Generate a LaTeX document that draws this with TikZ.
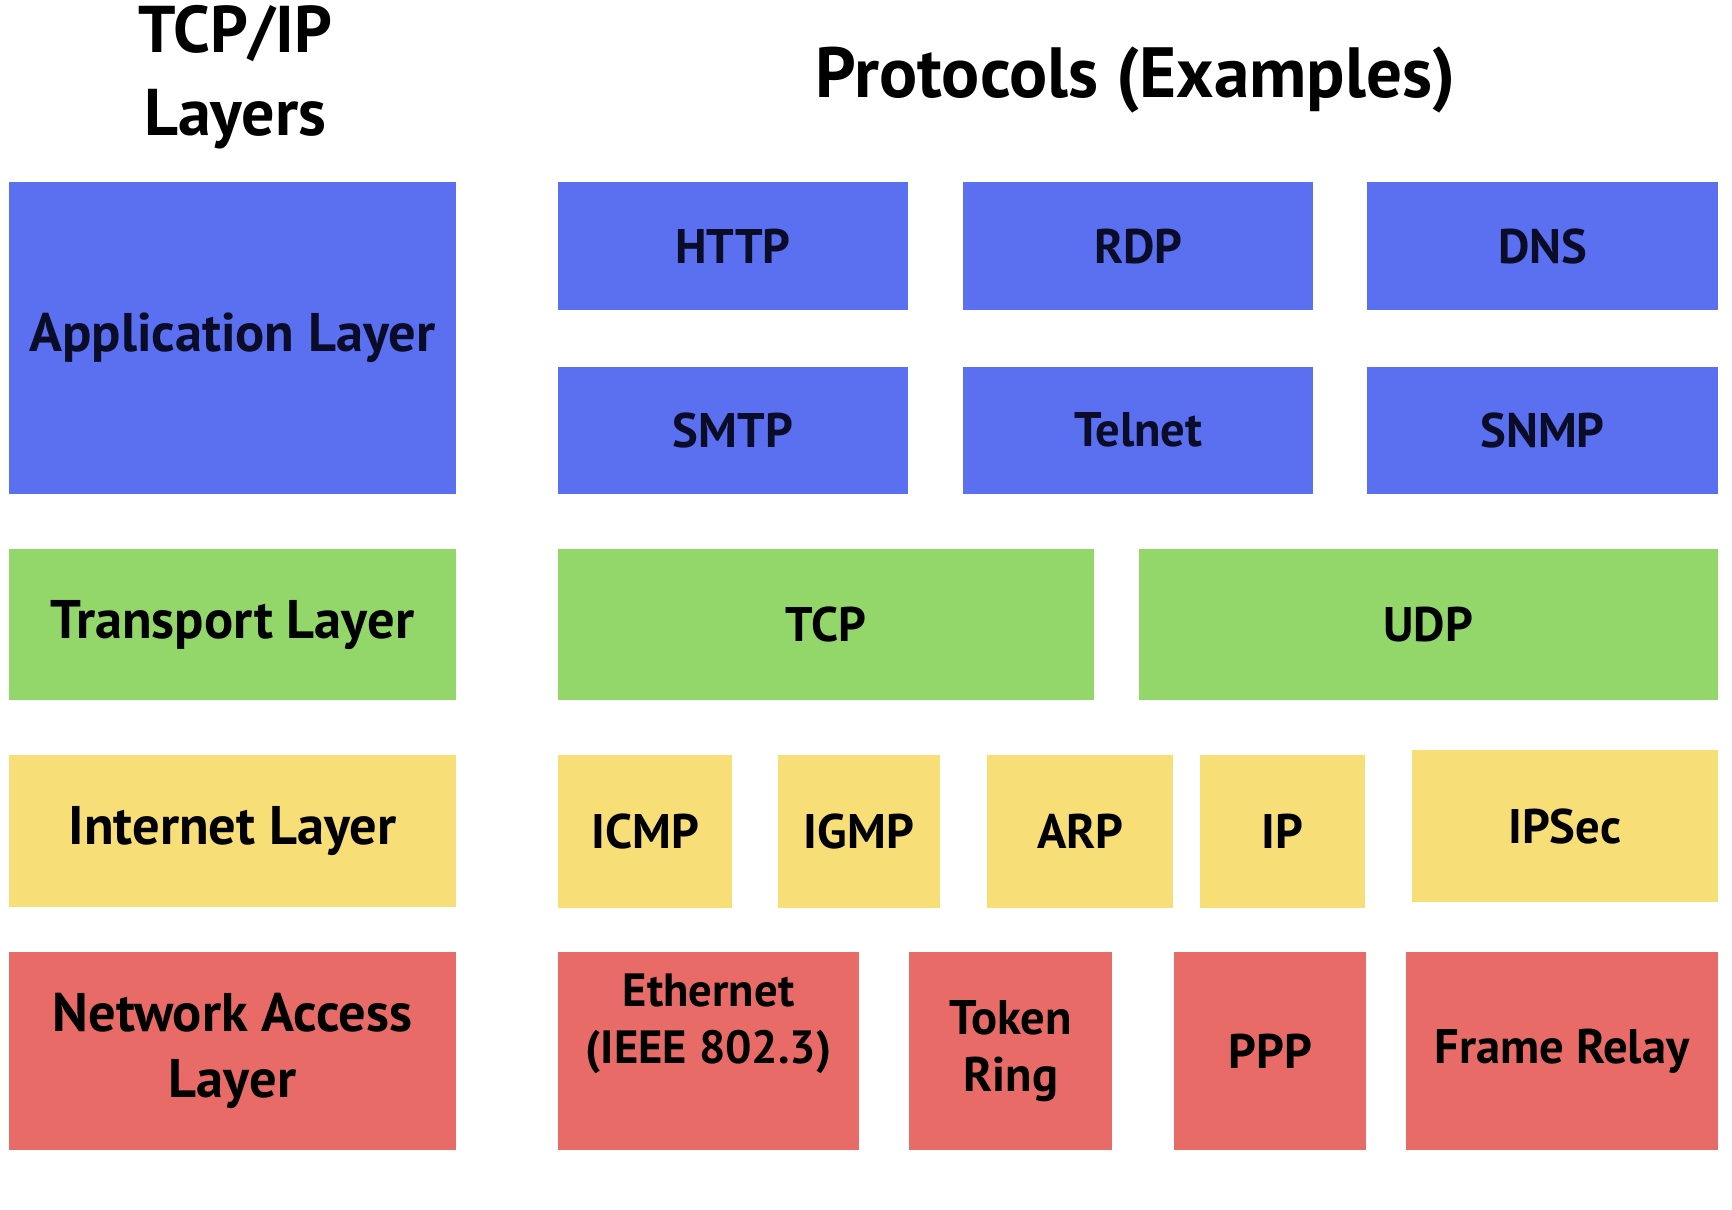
\documentclass[tikz,border=0pt]{standalone}
\usepackage{fontspec}
\setmainfont{PT Sans}
\definecolor{cblue}{RGB}{90,112,240}
\definecolor{cgreen}{RGB}{147,214,106}
\definecolor{cyellow}{RGB}{248,222,118}
\definecolor{cred}{RGB}{233,107,104}
\definecolor{navy}{RGB}{10,12,40}
\begin{document}
\begin{tikzpicture}[x=0.01cm,y=-0.01cm,
  box/.style={draw=none,inner sep=0pt,align=center,font=\bfseries\fontsize{12.5}{14.5}\selectfont},
  lbox/.style={box,font=\bfseries\fontsize{14}{17}\selectfont},
  title/.style={inner sep=0pt,align=center,font=\bfseries\fontsize{17}{21.5}\selectfont},
  txt/.style={inner sep=0pt,align=center,font=\bfseries\fontsize{12.5}{14.5}\selectfont}]
\useasboundingbox[fill=white] (0,0) rectangle (1568,1095);
% titles
\node[title] (t1) at (213,70) {TCP/IP\\Layers};
\node[title,font=\bfseries\fontsize{18.3}{22}\selectfont] (t2) at (1028,72) {Protocols (Examples)};
% layers
\node[lbox,fill=cblue,text=navy,minimum width=4.05cm,minimum height=2.82cm] (app) at (210.5,306) {Application Layer};
\node[lbox,fill=cgreen,minimum width=4.05cm,minimum height=1.37cm] (tra) at (210.5,565.5) {Transport Layer};
\node[lbox,fill=cyellow,minimum width=4.05cm,minimum height=1.37cm] (int) at (210.5,752.5) {Internet Layer};
\node[lbox,fill=cred,minimum width=4.05cm,minimum height=1.79cm] (net) at (210.5,951.5) {Network Access\\Layer};
% application protocols
\node[box,fill=cblue,text=navy,minimum width=3.17cm,minimum height=1.16cm] (http) at (663.5,223) {HTTP};
\node[box,fill=cblue,text=navy,minimum width=3.17cm,minimum height=1.16cm] (rdp) at (1030.5,223) {RDP};
\node[box,fill=cblue,text=navy,minimum width=3.17cm,minimum height=1.16cm] (dns) at (1396.5,223) {DNS};
\node[box,fill=cblue,text=navy,minimum width=3.17cm,minimum height=1.15cm] (smtp) at (663.5,389.5) {SMTP};
\node[box,fill=cblue,text=navy,minimum width=3.17cm,minimum height=1.15cm] (telnet) at (1030.5,389.5) {Telnet};
\node[box,fill=cblue,text=navy,minimum width=3.17cm,minimum height=1.15cm] (snmp) at (1396.5,389.5) {SNMP};
% transport
\node[box,fill=cgreen,minimum width=4.85cm,minimum height=1.37cm] (tcp) at (747.5,565.5) {TCP};
\node[box,fill=cgreen,minimum width=5.24cm,minimum height=1.37cm] (udp) at (1293,565.5) {UDP};
% internet
\node[box,fill=cyellow,minimum width=1.58cm,minimum height=1.38cm] (icmp) at (584,753) {ICMP};
\node[box,fill=cyellow,minimum width=1.47cm,minimum height=1.38cm] (igmp) at (777.5,753) {IGMP};
\node[box,fill=cyellow,minimum width=1.68cm,minimum height=1.38cm] (arp) at (978,753) {ARP};
\node[box,fill=cyellow,minimum width=1.50cm,minimum height=1.38cm] (ip) at (1161,753) {IP};
\node[box,fill=cyellow,minimum width=2.77cm,minimum height=1.38cm] (ipsec) at (1416.5,748) {IPSec};
% network access
\node[box,fill=cred,minimum width=2.73cm,minimum height=1.79cm] (eth) at (641.5,951.5) {};
\node[txt,font=\bfseries\fontsize{12}{14.5}\selectfont] (ethtxt) at (641.5,927) {Ethernet\\(IEEE 802.3)};
\node[box,fill=cred,minimum width=1.84cm,minimum height=1.79cm] (token) at (915,951.5) {Token\\Ring};
\node[box,fill=cred,minimum width=1.74cm,minimum height=1.79cm] (ppp) at (1150,951.5) {PPP};
\node[box,fill=cred,minimum width=2.82cm,minimum height=1.79cm] (frame) at (1414,951.5) {Frame Relay};
\end{tikzpicture}
\end{document}
